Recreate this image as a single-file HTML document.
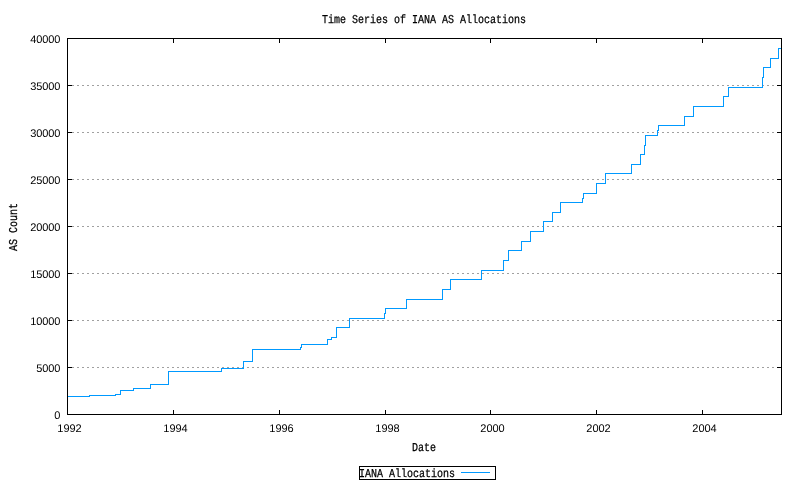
<!DOCTYPE html>
<html><head><meta charset="utf-8"><title>Time Series of IANA AS Allocations</title>
<style>
html,body{margin:0;padding:0;background:#fff}
svg{display:block}
text{font-family:"Liberation Mono",monospace;font-size:12px;fill:#000;stroke:#000;stroke-width:0.25px;text-rendering:geometricPrecision}
text.n{font-family:"Liberation Sans",sans-serif;font-size:11px;stroke-width:0;letter-spacing:-0.1px}
</style></head><body>
<svg width="800" height="480" viewBox="0 0 800 480">
<rect width="800" height="480" fill="#fff"/>
<g stroke="#a0a0a0" stroke-width="1" stroke-dasharray="2 3" shape-rendering="crispEdges">
<line x1="72" y1="367.5" x2="777" y2="367.5"/>
<line x1="72" y1="320.5" x2="777" y2="320.5"/>
<line x1="72" y1="273.5" x2="777" y2="273.5"/>
<line x1="72" y1="226.5" x2="777" y2="226.5"/>
<line x1="72" y1="179.5" x2="777" y2="179.5"/>
<line x1="72" y1="132.5" x2="777" y2="132.5"/>
<line x1="72" y1="85.5" x2="777" y2="85.5"/>
</g>
<path d="M67.5 396.5 H89.5 V395.5 H115.5 V394.5 H120.5 V390.5 H133.5 V388.5 H150.5 V384.5 H168.5 V371.5 H221.5 V368.5 H243.5 V361.5 H252.5 V349.5 H300.5 V347.5 H301.5 V344.5 H327.5 V339.5 H331.5 V337.5 H336.5 V327.5 H349.5 V318.5 H384.5 V313.5 H385.5 V308.5 H406.5 V299.5 H442.5 V289.5 H450.5 V279.5 H481.5 V270.5 H503.5 V260.5 H508.5 V250.5 H521.5 V241.5 H530.5 V231.5 H543.5 V221.5 H552.5 V212.5 H560.5 V202.5 H582.5 V198.5 H583.5 V193.5 H596.5 V183.5 H605.5 V173.5 H631.5 V164.5 H640.5 V154.5 H644.5 V145.5 H645.5 V135.5 H657.5 V130.5 H658.5 V125.5 H684.5 V116.5 H693.5 V106.5 H723.5 V96.5 H728.5 V87.5 H762.5 V77.5 H763.5 V67.5 H770.5 V58.5 H778.5 V48.5 H781.5" fill="none" stroke="#0099ff" stroke-width="1" shape-rendering="crispEdges"/>
<g stroke="#000" stroke-width="1" fill="none" shape-rendering="crispEdges">
<rect x="67.5" y="38.5" width="714" height="376"/>
<line x1="67" y1="414.5" x2="72" y2="414.5"/><line x1="777" y1="414.5" x2="782" y2="414.5"/>
<line x1="67" y1="367.5" x2="72" y2="367.5"/><line x1="777" y1="367.5" x2="782" y2="367.5"/>
<line x1="67" y1="320.5" x2="72" y2="320.5"/><line x1="777" y1="320.5" x2="782" y2="320.5"/>
<line x1="67" y1="273.5" x2="72" y2="273.5"/><line x1="777" y1="273.5" x2="782" y2="273.5"/>
<line x1="67" y1="226.5" x2="72" y2="226.5"/><line x1="777" y1="226.5" x2="782" y2="226.5"/>
<line x1="67" y1="179.5" x2="72" y2="179.5"/><line x1="777" y1="179.5" x2="782" y2="179.5"/>
<line x1="67" y1="132.5" x2="72" y2="132.5"/><line x1="777" y1="132.5" x2="782" y2="132.5"/>
<line x1="67" y1="85.5" x2="72" y2="85.5"/><line x1="777" y1="85.5" x2="782" y2="85.5"/>
<line x1="67" y1="38.5" x2="72" y2="38.5"/><line x1="777" y1="38.5" x2="782" y2="38.5"/>
<line x1="67.5" y1="410" x2="67.5" y2="415"/><line x1="67.5" y1="38" x2="67.5" y2="43"/>
<line x1="173.5" y1="410" x2="173.5" y2="415"/><line x1="173.5" y1="38" x2="173.5" y2="43"/>
<line x1="279.5" y1="410" x2="279.5" y2="415"/><line x1="279.5" y1="38" x2="279.5" y2="43"/>
<line x1="385.5" y1="410" x2="385.5" y2="415"/><line x1="385.5" y1="38" x2="385.5" y2="43"/>
<line x1="490.5" y1="410" x2="490.5" y2="415"/><line x1="490.5" y1="38" x2="490.5" y2="43"/>
<line x1="596.5" y1="410" x2="596.5" y2="415"/><line x1="596.5" y1="38" x2="596.5" y2="43"/>
<line x1="702.5" y1="410" x2="702.5" y2="415"/><line x1="702.5" y1="38" x2="702.5" y2="43"/>
</g>
<text class="n" x="60.4" y="419" text-anchor="end">0</text>
<text class="n" x="60.4" y="372" text-anchor="end">5000</text>
<text class="n" x="60.4" y="325" text-anchor="end">10000</text>
<text class="n" x="60.4" y="278" text-anchor="end">15000</text>
<text class="n" x="60.4" y="231" text-anchor="end">20000</text>
<text class="n" x="60.4" y="184" text-anchor="end">25000</text>
<text class="n" x="60.4" y="137" text-anchor="end">30000</text>
<text class="n" x="60.4" y="90" text-anchor="end">35000</text>
<text class="n" x="60.4" y="43" text-anchor="end">40000</text>
<text class="n" x="69.4" y="432" text-anchor="middle">1992</text>
<text class="n" x="175.4" y="432" text-anchor="middle">1994</text>
<text class="n" x="281.4" y="432" text-anchor="middle">1996</text>
<text class="n" x="387.4" y="432" text-anchor="middle">1998</text>
<text class="n" x="492.4" y="432" text-anchor="middle">2000</text>
<text class="n" x="598.4" y="432" text-anchor="middle">2002</text>
<text class="n" x="704.4" y="432" text-anchor="middle">2004</text>
<text transform="translate(424 23) scale(0.8333 1)" text-anchor="middle">Time Series of IANA AS Allocations</text>
<text transform="translate(424 451) scale(0.8333 1)" text-anchor="middle">Date</text>
<text transform="translate(17 227) rotate(-90) scale(0.8333 1)" text-anchor="middle">AS Count</text>
<rect x="359.5" y="466.5" width="136" height="12.5" fill="none" stroke="#000" shape-rendering="crispEdges"/>
<text transform="translate(359 477) scale(0.8333 1)" text-anchor="start">IANA Allocations</text>
<line x1="461" y1="472.5" x2="490" y2="472.5" stroke="#0099ff" shape-rendering="crispEdges"/>
</svg>
</body></html>
